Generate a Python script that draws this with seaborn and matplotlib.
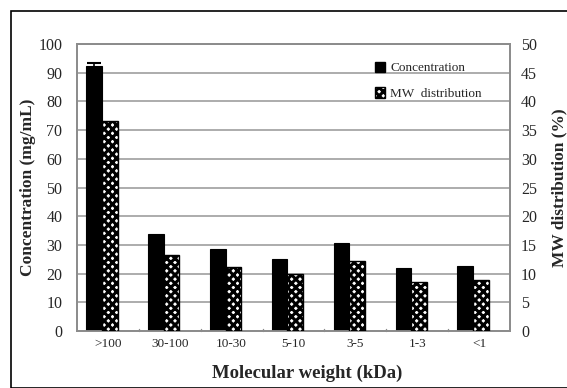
import numpy as np
import pandas as pd
import matplotlib
matplotlib.use("Agg")
import matplotlib.pyplot as plt
from matplotlib.patches import Rectangle, Patch
import seaborn as sns

categories = [">100", "30-100", "10-30", "5-10", "3-5", "1-3", "<1"]
concentration = [92.5, 33.8, 28.5, 25.2, 30.8, 21.8, 22.6]
conc_err = [0.8, 0, 0, 0, 0, 0, 0]
mw_distribution = [36.5, 13.3, 11.2, 9.9, 12.2, 8.6, 8.8]

sns.set_style("white")
plt.rcParams['font.family'] = ['Liberation Serif', 'DejaVu Serif']
plt.rcParams['hatch.linewidth'] = 2.2

fig = plt.figure(figsize=(5.67, 3.88), dpi=100)
ax = fig.add_axes([77/567, 1-331/388, (510-77)/567, (331-44)/388])
ax2 = ax.twinx()

pos = np.arange(len(categories))
bw = 0.254
df = pd.DataFrame({"pos_c": pos - 0.224, "pos_m": pos + 0.03,
                   "conc": concentration, "mw": mw_distribution})

sns.barplot(data=df, x="pos_c", y="conc", native_scale=True, width=bw,
            color="black", edgecolor="black", linewidth=0.8, ax=ax,
            errorbar=None, zorder=3)
sns.barplot(data=df, x="pos_m", y="mw", native_scale=True, width=bw,
            color="white", edgecolor="black", linewidth=1.0, hatch="xxxx",
            ax=ax2, errorbar=None, zorder=3)
for p in ax2.patches:
    p.set_facecolor("white")
    p.set_edgecolor("black")

err = np.array(conc_err)
m = err > 0
ax.errorbar(df["pos_c"][m], np.array(concentration)[m], yerr=err[m],
            fmt="none", ecolor="black", capsize=5, elinewidth=1.2, capthick=1.5, zorder=4)

ax.set_xlim(-0.5, 6.5)
ax.set_ylim(0, 100)
ax2.set_ylim(0, 50)
ax.set_yticks(np.arange(0, 101, 10))
ax2.set_yticks(np.arange(0, 51, 5))
ax.set_xticks(pos)
ax.set_xticklabels(categories)
ax.tick_params(axis='x', length=0, labelsize=9.5, pad=5)
ax.tick_params(axis='y', length=0, labelsize=11.5, pad=10.5)
ax2.tick_params(axis='y', length=0, labelsize=11.5, pad=8)

ax.yaxis.grid(True, color="#a6a6a6", linewidth=1.3, zorder=0)
ax.set_axisbelow(True)
ax2.set_zorder(ax.get_zorder() + 1)
ax2.patch.set_visible(False)
for a in (ax, ax2):
    for s in a.spines.values():
        s.set_color("#8c8c8c")
        s.set_linewidth(1.3)

# small category boundary ticks on x axis
for b in np.arange(0.5, 6.5, 1.0):
    ax.plot([b, b], [0, 0.8], color="#8c8c8c", lw=1.0, clip_on=False, zorder=2)

ax.set_xlabel("Molecular weight (kDa)", fontsize=13.5, fontweight="bold")
ax.xaxis.set_label_coords((307-77)/433, -(365-331)/287)
ax.set_ylabel("Concentration (mg/mL)", fontsize=12.5, fontweight="bold")
ax.yaxis.set_label_coords(-(77-36)/433, 0.5)
ax2.set_ylabel("MW distribution (%)", fontsize=12.5, fontweight="bold", labelpad=10)

handles = [Patch(facecolor="black", edgecolor="black"),
           Patch(facecolor="white", edgecolor="black", hatch="xxxx")]
leg = ax2.legend(handles, ["Concentration", "MW  distribution"],
                 loc="upper left", bbox_to_anchor=(0.66, 0.98), frameon=False,
                 fontsize=9.5, handlelength=0.8, handleheight=0.8,
                 handletextpad=0.4, labelspacing=1.0)

fig.patches.append(Rectangle((11/567, 0), 1 - 11/567 + 0.01, 1 - 11/388,
                             transform=fig.transFigure, fill=False,
                             edgecolor="black", linewidth=1.2, clip_on=False))

fig.savefig("out.png", dpi=100)
